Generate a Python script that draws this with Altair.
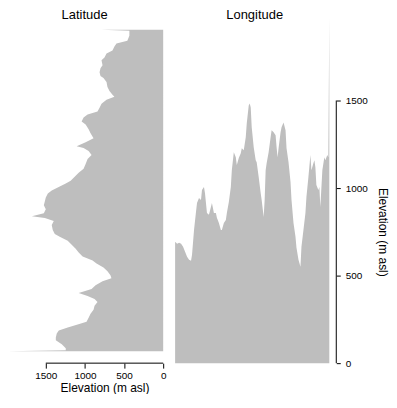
import altair as alt
import pandas as pd

# ---- data ----
panel_titles = ["Latitude", "Longitude"]
axis_title = "Elevation (m asl)"
tick_values = [0, 500, 1000, 1500]

# Latitude profile: step along the N-S transect (north = 0) and elevation (m)
lat_step = [0, 1, 6, 11, 14, 17, 21, 24, 28, 31, 36, 39, 43, 47, 49, 53, 58, 62, 66, 68,
            71, 75, 79, 83, 86, 89, 93, 96, 101, 105, 110, 114, 118, 120, 123, 127, 131, 136, 141, 145,
            149, 153, 156, 159, 163, 166, 170, 174, 178, 182, 186, 189, 191, 194, 198, 203, 207, 210, 214, 218,
            222, 226, 230, 234, 237, 241, 245, 249, 252, 255, 259, 263, 267, 270, 273, 276, 280, 284, 288, 292,
            296, 299, 302, 305, 308, 312, 315, 319, 323, 325, 326]
lat_elev = [788, 432, 432, 458, 597, 623, 648, 724, 750, 788, 775, 801, 813, 801, 763, 724, 712, 686, 648, 623,
            724, 788, 813, 839, 966, 1017, 1042, 991, 953, 928, 890, 991, 1106, 1017, 953, 915, 966, 991, 1017, 1080,
            1131, 1182, 1245, 1322, 1424, 1474, 1500, 1512, 1525, 1500, 1525, 1678, 1512, 1398, 1424, 1411, 1385, 1322, 1220, 1169,
            1118, 1080, 1029, 902, 852, 763, 712, 674, 661, 775, 864, 915, 1080, 966, 877, 839, 877, 890, 928, 953,
            979, 1093, 1220, 1334, 1360, 1372, 1372, 1296, 1245, 1245, 2021]

# Longitude profile: step along the W-E transect and elevation (m)
lon_step = [0, 2, 4, 6, 8, 10, 12, 14, 16, 17, 19, 21, 22, 24, 26, 27, 29, 30, 32, 34,
            36, 37, 39, 41, 42, 44, 46, 47, 49, 51, 52, 54, 56, 57, 59, 61, 62, 64, 66, 67,
            69, 71, 72, 74, 75, 76, 77, 79, 81, 82, 84, 86, 87, 89, 90, 91, 92, 94, 96, 97,
            99, 101, 102, 103, 104, 106, 107, 109, 111, 112, 114, 116, 117, 119, 121, 122, 124, 126, 127, 129,
            131, 132, 134, 136, 137, 139, 140, 141, 142, 144, 145, 146, 148, 150, 151, 153, 154, 155]
lon_elev = [693, 682, 688, 682, 665, 636, 608, 591, 585, 619, 761, 864, 915, 943, 932, 989, 1006, 972, 858, 847,
            892, 915, 858, 858, 830, 801, 761, 761, 801, 818, 858, 920, 1006, 1102, 1205, 1176, 1131, 1171, 1199, 1227,
            1216, 1290, 1369, 1472, 1483, 1460, 1347, 1233, 1159, 1148, 1063, 972, 932, 835, 932, 1102, 1142, 1205, 1290, 1330,
            1318, 1301, 1233, 1176, 1227, 1318, 1347, 1375, 1330, 1227, 1148, 1034, 932, 801, 722, 659, 591, 551, 665, 761,
            858, 949, 1063, 1188, 1102, 1142, 1159, 1119, 1017, 989, 1006, 892, 1102, 1176, 1159, 1188, 1176, 1977]

FILL = "#bebebe"
FONT = "Liberation Sans"

W_L, H_L = 156, 336
W_R, H_R = 155, 348
LAT_DOMAIN = [-13, 326]
ELEV_L_MAX = 1983
ELEV_R_MAX = 1977
LON_DOMAIN = [0, 155]
L_OFFSET = 12

lat_df = pd.DataFrame({"step": lat_step, "elev": lat_elev})
lon_df = pd.DataFrame({"step": lon_step, "elev": lon_elev})
lab_df = pd.DataFrame({"t": panel_titles})
one = pd.DataFrame({"a": [0]})

tmid = (tick_values[0] + tick_values[-1]) / 2

# ---- left panel ----
xL = alt.Scale(domain=[0, ELEV_L_MAX], reverse=True, clamp=True, nice=False, zero=True)
left_area = alt.Chart(lat_df).mark_area(orient="horizontal", color=FILL).encode(
    x=alt.X("elev:Q", scale=xL,
            axis=alt.Axis(values=tick_values, format="d", labelFlush=False, domain=False,
                          tickSize=5, offset=L_OFFSET, labelPadding=2, grid=False, title=axis_title,
                          titleX=W_L * (1 - tmid / ELEV_L_MAX), titlePadding=2)),
    y=alt.Y("step:Q", scale=alt.Scale(domain=LAT_DOMAIN, reverse=True, nice=False, zero=False), axis=None),
)
left_rule = alt.Chart(one).mark_rule(color="black", strokeWidth=1).encode(
    x=alt.datum(tick_values[0]), x2=alt.datum(tick_values[-1]), y=alt.value(H_L + L_OFFSET)
)
left_title = alt.Chart(lab_df).transform_filter(alt.datum.t == panel_titles[0]).mark_text(
    fontSize=13, baseline="alphabetic", align="center", color="black"
).encode(text="t:N", x=alt.value(77), y=alt.value(2.5))
left = alt.layer(left_area, left_rule, left_title).properties(width=W_L, height=H_L)

# ---- right panel ----
yR = alt.Scale(domain=[0, ELEV_R_MAX], nice=False, zero=True)
right_area = alt.Chart(lon_df).mark_area(color=FILL).encode(
    x=alt.X("step:Q", scale=alt.Scale(domain=LON_DOMAIN, nice=False, zero=False), axis=None),
    y=alt.Y("elev:Q", scale=yR,
            axis=alt.Axis(orient="right", values=tick_values, format="d", labelFlush=False,
                          domain=False, tickSize=4, offset=7, labelPadding=5, grid=False,
                          title=axis_title, titleY=H_R * (1 - tmid / ELEV_R_MAX), titlePadding=8)),
)
right_rule = alt.Chart(one).mark_rule(color="black", strokeWidth=1).encode(
    y=alt.datum(tick_values[0]), y2=alt.datum(tick_values[-1]), x=alt.value(W_R + 7)
)
right_title = alt.Chart(lab_df).transform_filter(alt.datum.t == panel_titles[1]).mark_text(
    fontSize=13, baseline="alphabetic", align="center", color="black"
).encode(text="t:N", x=alt.value(80), y=alt.value(2.5))
right = alt.layer(right_area, right_rule, right_title).properties(width=W_R, height=H_R)

chart = alt.hconcat(left, right, spacing=12, bounds="flush").properties(
    padding={"left": 0, "top": 0, "right": 0, "bottom": 0}
).configure(font=FONT).configure_view(stroke=None).configure_axis(
    labelFontSize=10, titleFontSize=12, titleFontWeight="normal",
    labelColor="black", titleColor="black", tickColor="black", tickWidth=1,
    labelFont=FONT, titleFont=FONT
)

chart.save("out.html", embed_options={"renderer": "svg", "actions": False})
